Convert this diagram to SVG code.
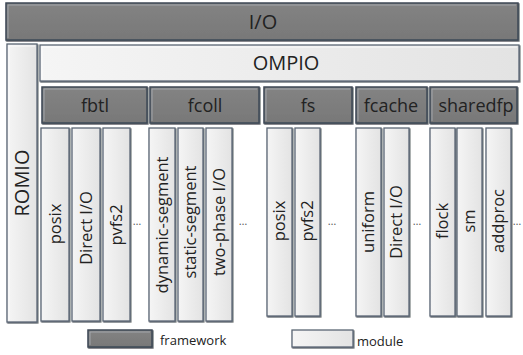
<svg xmlns="http://www.w3.org/2000/svg" width="523" height="355" viewBox="0 0 523 355">
  <defs>
    <linearGradient id="modFill" x1="0" y1="0" x2="1" y2="0">
      <stop offset="0" stop-color="#f5f5f5"/>
      <stop offset="1" stop-color="#e3e3e3"/>
    </linearGradient>
    <linearGradient id="fwFill" x1="0" y1="0" x2="0" y2="1">
      <stop offset="0" stop-color="#838383"/>
      <stop offset="1" stop-color="#787878"/>
    </linearGradient>
    <!-- soft lower-right shadow for the bevelled boxes -->
    <filter id="bevel" x="-10%" y="-10%" width="130%" height="130%">
      <feDropShadow dx="0.8" dy="1" stdDeviation="0.5" flood-color="#1e242c" flood-opacity="0.7"/>
    </filter>
  </defs>
  <style>
    .fw { fill: url(#fwFill); stroke: #3e4856; stroke-width: 1.5; filter: url(#bevel); }
    .mod { fill: url(#modFill); stroke: #5a6573; stroke-width: 1.3; filter: url(#bevel); }
    .hl { fill: none; stroke: #a9afb6; stroke-width: 0.8; }
    .hlm { fill: none; stroke: #ffffff; stroke-width: 0.8; }
    text { font-family: "Open Sans", Lato, "Liberation Sans", sans-serif; fill: #222; }
    .big { font-size: 20px; text-anchor: middle; }
    .fwl { font-size: 18px; text-anchor: middle; }
    .ml { font-size: 16.5px; text-anchor: middle; }
    .dots { font-size: 11px; text-anchor: middle; fill: #555; }
    .leg { font-size: 13px; }
  </style>

  <!-- top level -->
  <g id="io">
    <rect class="fw" x="6" y="3" width="512" height="37"/>
    <path class="hl" d="M8 38 V5 H516"/>
    <text class="big" x="263" y="29">I/O</text>
  </g>
  <g id="romio">
    <rect class="mod" x="7" y="44" width="30" height="278"/>
    <path class="hlm" d="M9 320 V46 H35"/>
    <text class="big" transform="translate(29 183) rotate(-90)">ROMIO</text>
  </g>
  <g id="ompio">
    <rect class="mod" x="40" y="45" width="479" height="36"/>
    <path class="hlm" d="M42 79 V47 H517"/>
    <text class="big" x="286" y="70">OMPIO</text>
  </g>

  <!-- frameworks under OMPIO -->
  <g id="fbtl">
    <rect class="fw" x="42" y="87" width="105" height="36"/>
    <path class="hl" d="M44 121 V89 H145"/>
    <text class="fwl" x="95" y="112">fbtl</text>
  </g>
  <g id="fcoll">
    <rect class="fw" x="150" y="87" width="109" height="36"/>
    <path class="hl" d="M152 121 V89 H257"/>
    <text class="fwl" x="205" y="112">fcoll</text>
  </g>
  <g id="fs">
    <rect class="fw" x="264" y="87" width="88" height="36"/>
    <path class="hl" d="M266 121 V89 H350"/>
    <text class="fwl" x="308" y="112">fs</text>
  </g>
  <g id="fcache">
    <rect class="fw" x="356" y="87" width="71" height="36"/>
    <path class="hl" d="M358 121 V89 H425"/>
    <text class="fwl" x="391" y="112">fcache</text>
  </g>
  <g id="sharedfp">
    <rect class="fw" x="430" y="87" width="87" height="36"/>
    <path class="hl" d="M432 121 V89 H515"/>
    <text class="fwl" x="476" y="112">sharedfp</text>
  </g>

  <!-- fbtl modules -->
  <g id="fbtl-posix">
    <rect class="mod" x="41" y="128" width="28" height="193"/>
    <text class="ml" transform="translate(61 224) rotate(-90)">posix</text>
  </g>
  <g id="fbtl-directio">
    <rect class="mod" x="72" y="128" width="28" height="193"/>
    <text class="ml" transform="translate(92 228) rotate(-90)">Direct I/O</text>
  </g>
  <g id="fbtl-pvfs2">
    <rect class="mod" x="103" y="128" width="27" height="193"/>
    <text class="ml" transform="translate(122 225) rotate(-90)">pvfs2</text>
  </g>
  <text class="dots" x="137" y="225">…</text>

  <!-- fcoll modules -->
  <g id="fcoll-dynamic">
    <rect class="mod" x="149" y="128" width="26" height="193"/>
    <text class="ml" transform="translate(167.5 225) rotate(-90)">dynamic-segment</text>
  </g>
  <g id="fcoll-static">
    <rect class="mod" x="178" y="128" width="25" height="193"/>
    <text class="ml" transform="translate(196 222) rotate(-90)">static-segment</text>
  </g>
  <g id="fcoll-twophase">
    <rect class="mod" x="206" y="128" width="26" height="193"/>
    <text class="ml" transform="translate(224.5 222) rotate(-90)">two-phase I/O</text>
  </g>
  <text class="dots" x="243" y="225">…</text>

  <!-- fs modules -->
  <g id="fs-posix">
    <rect class="mod" x="267" y="128" width="25" height="188"/>
    <text class="ml" transform="translate(285 221) rotate(-90)">posix</text>
  </g>
  <g id="fs-pvfs2">
    <rect class="mod" x="295" y="128" width="25" height="188"/>
    <text class="ml" transform="translate(313 221) rotate(-90)">pvfs2</text>
  </g>
  <text class="dots" x="332" y="225">…</text>

  <!-- fcache modules -->
  <g id="fcache-uniform">
    <rect class="mod" x="356" y="128" width="25" height="188"/>
    <text class="ml" transform="translate(374 222) rotate(-90)">uniform</text>
  </g>
  <g id="fcache-directio">
    <rect class="mod" x="384" y="128" width="25" height="188"/>
    <text class="ml" transform="translate(402 222) rotate(-90)">Direct I/O</text>
  </g>
  <text class="dots" x="417" y="225">…</text>

  <!-- sharedfp modules -->
  <g id="sharedfp-flock">
    <rect class="mod" x="430" y="128" width="25" height="188"/>
    <text class="ml" transform="translate(448 221) rotate(-90)">flock</text>
  </g>
  <g id="sharedfp-sm">
    <rect class="mod" x="457" y="128" width="25" height="188"/>
    <text class="ml" transform="translate(475 221) rotate(-90)">sm</text>
  </g>
  <g id="sharedfp-addproc">
    <rect class="mod" x="486" y="128" width="25" height="188"/>
    <text class="ml" transform="translate(504 221) rotate(-90)">addproc</text>
  </g>
  <text class="dots" x="517" y="225">…</text>

  <!-- legend -->
  <g id="legend">
    <rect class="fw" x="88" y="330" width="64" height="17"/>
    <path class="hl" d="M90 345 V332 H150"/>
    <text class="leg" x="160" y="345">framework</text>
    <rect class="mod" x="292" y="330" width="61" height="17"/>
    <text class="leg" x="357" y="346">module</text>
  </g>

  <g id="connectors"/>
</svg>
